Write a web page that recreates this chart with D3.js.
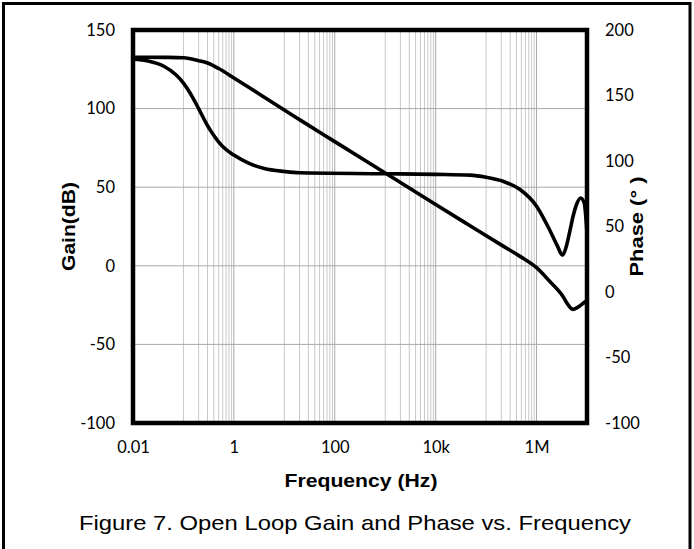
<!DOCTYPE html>
<html>
<head>
<meta charset="utf-8">
<script src="https://cdn.jsdelivr.net/npm/d3@7"></script>
<style>
  html, body { margin: 0; padding: 0; background: #fff; }
  svg { display: block; }
</style>
</head>
<body>
<svg id="chart" width="694" height="549"></svg>
<script>
// ---------- data ----------
const gainFreq = [0.01, 0.05, 0.1, 0.2, 0.3, 0.5, 1, 2, 4, 8.5, 20, 100, 1000, 1e4, 4.8e4, 2.18e5, 4.7e5, 1e6, 1.8e6, 3.3e6, 4.3e6, 5.3e6, 7e6, 9.5e6, 1e7];
const gainDb   = [132.7, 132.6, 132.3, 130.5, 129, 125.5, 119.5, 113.4, 107.2, 100.5, 93, 79, 59, 39, 25.5, 12.5, 6, -1.2, -9.7, -19.2, -25.2, -27.7, -25.8, -22.6, -22.2];

const phaseFreq = [0.01, 0.02, 0.04, 0.07, 0.1, 0.15, 0.2, 0.3, 0.4, 0.6, 1, 2, 4, 10, 20, 1000, 1e4, 4.8e4, 1e5, 2.18e5, 4.7e5, 1e6, 1.8e6, 2.6e6, 3.27e6, 3.9e6, 4.57e6, 5.3e6, 6.2e6, 7.5e6, 8.8e6, 1e7];
const phaseDeg  = [177.7, 176.3, 172.5, 166, 159.5, 149, 140, 127, 119.5, 111, 104.5, 98.2, 94.3, 92, 91, 90.3, 89.8, 89.2, 87.6, 84.5, 78.2, 65.5, 47.7, 35, 28, 35, 46.4, 57.8, 66.8, 71.8, 68, 45];

const xTicks = [0.01, 1, 100, 1e4, 1e6];
const xTickLabels = ["0.01", "1", "100", "10k", "1M"];
const gainTicks = [-100, -50, 0, 50, 100, 150];
const phaseTicks = [-100, -50, 0, 50, 100, 150, 200];
const minorDecades = [0.1, 10, 1000, 100000];
const minorMultipliers = [1, 2, 3, 4, 5, 6, 7, 8, 9];

const xTitle = "Frequency (Hz)";
const yLeftTitle = "Gain(dB)";
const yRightTitle = "Phase (° )";
const caption = "Figure 7. Open Loop Gain and Phase vs. Frequency";

// ---------- layout ----------
const svg = d3.select("#chart");
const L = 133, R = 587, T = 30, B = 423;

const x = d3.scaleLog().domain([0.01, 1e7]).range([L, R]);
const yL = d3.scaleLinear().domain([-100, 150]).range([B, T]);
const yR = d3.scaleLinear().domain([-100, 200]).range([B, T]);

// outer frame
svg.append("rect").attr("x", 3.5).attr("y", 3.5).attr("width", 686.5).attr("height", 600)
  .attr("fill", "none").attr("stroke", "#000").attr("stroke-width", 3);

// minor vertical grid
const minorVals = [];
minorDecades.forEach(d => minorMultipliers.forEach(m => minorVals.push(d * m)));
svg.append("g").selectAll("line").data(minorVals).join("line")
  .attr("x1", d => x(d)).attr("x2", d => x(d))
  .attr("y1", T).attr("y2", B)
  .attr("stroke", "#c8c8c8").attr("stroke-width", 1);

// major vertical grid
svg.append("g").selectAll("line").data(xTicks).join("line")
  .attr("x1", d => x(d)).attr("x2", d => x(d))
  .attr("y1", T).attr("y2", B)
  .attr("stroke", "#a8a8a8").attr("stroke-width", 1);

// horizontal grid
svg.append("g").selectAll("line").data(gainTicks).join("line")
  .attr("x1", L).attr("x2", R)
  .attr("y1", d => yL(d)).attr("y2", d => yL(d))
  .attr("stroke", "#a8a8a8").attr("stroke-width", 1);

// curves
const gainLine = d3.line().x(d => x(d[0])).y(d => yL(d[1])).curve(d3.curveMonotoneX);
const phaseLine = d3.line().x(d => x(d[0])).y(d => yR(d[1])).curve(d3.curveMonotoneX);

svg.append("path").datum(d3.zip(gainFreq, gainDb)).attr("d", gainLine)
  .attr("fill", "none").attr("stroke", "#000").attr("stroke-width", 3.6).attr("stroke-linejoin", "round");
svg.append("path").datum(d3.zip(phaseFreq, phaseDeg)).attr("d", phaseLine)
  .attr("fill", "none").attr("stroke", "#000").attr("stroke-width", 3.6).attr("stroke-linejoin", "round");

// plot border
svg.append("rect").attr("x", L).attr("y", T).attr("width", R - L).attr("height", B - T)
  .attr("fill", "none").attr("stroke", "#000").attr("stroke-width", 4.5);

// axes (labels only)
const tickFont = "Lato, 'Open Sans', sans-serif";
const fmtNum = d => String(d);
const leftAxis = d3.axisLeft(yL).tickValues(gainTicks).tickSize(0).tickPadding(18).tickFormat(fmtNum);
svg.append("g").attr("transform", `translate(${L},0)`).call(leftAxis)
  .call(g => g.select(".domain").remove())
  .selectAll("text").attr("font-family", tickFont).attr("font-size", 16.5).attr("fill", "#000");

const rightAxis = d3.axisRight(yR).tickValues(phaseTicks).tickSize(0).tickPadding(18).tickFormat(fmtNum);
svg.append("g").attr("transform", `translate(${R},0)`).call(rightAxis)
  .call(g => g.select(".domain").remove())
  .selectAll("text").attr("font-family", tickFont).attr("font-size", 16.5).attr("fill", "#000");

const bottomAxis = d3.axisBottom(x).tickValues(xTicks).tickSize(0).tickPadding(18)
  .tickFormat((d, i) => xTickLabels[i]);
svg.append("g").attr("transform", `translate(0,${B})`).call(bottomAxis)
  .call(g => g.select(".domain").remove())
  .selectAll("text").attr("font-family", tickFont).attr("font-size", 16.5).attr("fill", "#000");

// titles
const boldFont = "'Liberation Sans', Arial, sans-serif";
svg.append("text").attr("x", 361).attr("y", 487).attr("text-anchor", "middle")
  .attr("font-family", boldFont).attr("font-weight", "bold").attr("font-size", 18)
  .attr("textLength", 153).attr("lengthAdjust", "spacingAndGlyphs")
  .text(xTitle);

svg.append("text").attr("transform", "translate(75,226.5) rotate(-90)").attr("text-anchor", "middle")
  .attr("font-family", boldFont).attr("font-weight", "bold").attr("font-size", 18.5)
  .attr("textLength", 89).attr("lengthAdjust", "spacingAndGlyphs")
  .text(yLeftTitle);

svg.append("text").attr("transform", "translate(643,226.5) rotate(-90)").attr("text-anchor", "middle")
  .attr("font-family", boldFont).attr("font-weight", "bold").attr("font-size", 18.5)
  .attr("textLength", 100).attr("lengthAdjust", "spacingAndGlyphs")
  .text(yRightTitle);

svg.append("text").attr("x", 355).attr("y", 530).attr("text-anchor", "middle")
  .attr("font-family", "'Liberation Sans', Arial, sans-serif").attr("font-size", 21)
  .attr("textLength", 552).attr("lengthAdjust", "spacingAndGlyphs")
  .text(caption);
</script>
</body>
</html>
